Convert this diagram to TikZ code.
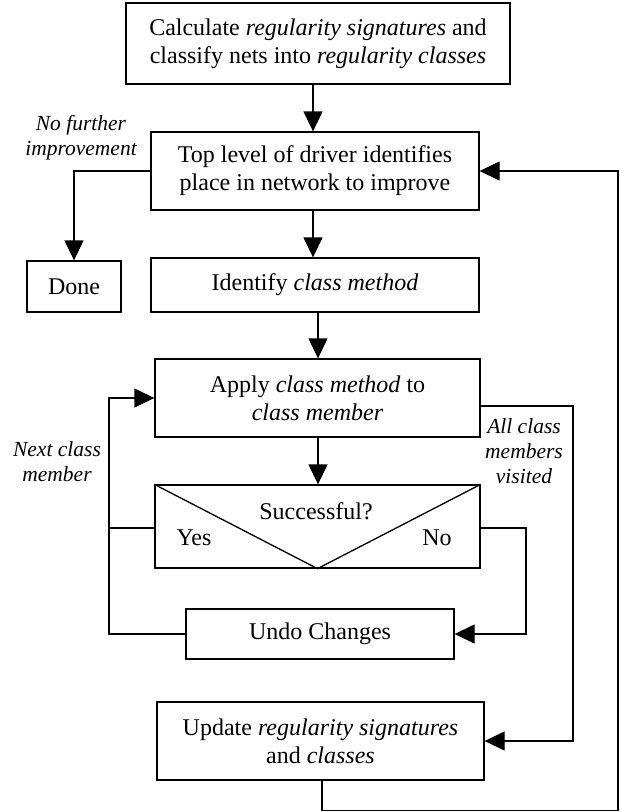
\documentclass[tikz,border=0pt]{standalone}
\usepackage{fontspec}
\setmainfont{Liberation Serif}
\usetikzlibrary{arrows.meta,calc}
\begin{document}
\begin{tikzpicture}[x=1pt,y=-1pt,
  box/.style={draw, line width=1.3pt, inner sep=0pt, align=center, font=\fontsize{24}{28}\selectfont},
  arr/.style={line width=1.3pt, -{Triangle[length=20pt,width=19pt]}},
  ln/.style={line width=1.3pt},
  lbl/.style={inner sep=0pt, align=center, font=\fontsize{21.5}{25}\selectfont\itshape},
  txt/.style={inner sep=0pt, font=\fontsize{24}{28}\selectfont}]
\useasboundingbox (0,0) rectangle (620,812);
\node[box, minimum width=384pt, minimum height=81pt] (b1) at (318,43.5) {Calculate \textit{regularity signatures} and\\classify nets into \textit{regularity classes}};
\node[box, minimum width=328pt, minimum height=78pt] (b2) at (315,171) {Top level of driver identifies\\place in network to improve};
\node[box, minimum width=94pt, minimum height=51pt] (done) at (74,286.5) {Done};
\node[box, minimum width=328pt, minimum height=54pt] (ident) at (315,285) {Identify \textit{class method}};
\node[box, minimum width=325pt, minimum height=78pt] (apply) at (317.5,398) {Apply \textit{class method} to\\\textit{class member}};
\node[box, minimum width=325pt, minimum height=83pt] (succ) at (317.5,526.5) {};
\node[box, minimum width=268pt, minimum height=50pt] (undo) at (320,634) {Undo Changes};
\node[box, minimum width=327pt, minimum height=78pt] (upd) at (320.5,741) {Update \textit{regularity signatures}\\and \textit{classes}};
\draw[ln] (succ.north west) -- (succ.south) -- (succ.north east);
\node[txt] (q) at (316,511) {Successful?};
\node[txt] (yes) at (194,538) {Yes};
\node[txt] (no) at (437,538) {No};
\node[lbl] (lnf) at (81,138) {No further\\improvement};
\node[lbl] (lnc) at (57,462) {Next class\\member};
\node[lbl] (lav) at (524,451) {All class\\members\\visited};
\coordinate (nc) at (109,0);
\coordinate (nr) at (526,0);
\coordinate (av) at (573,0);
\coordinate (c1) at (618,810.5);
\coordinate (sw) at ([yshift=-1.5pt]succ.west);
\coordinate (se) at ([yshift=-1.5pt]succ.east);
\coordinate (ae) at ([yshift=-8pt]apply.east);
\draw[arr] ([xshift=-5pt]b1.south) -- ([xshift=-2pt]b2.north);
\draw[arr] ([xshift=-2pt]b2.south) -- ([xshift=-2pt]ident.north);
\draw[arr] ([xshift=3pt]ident.south) -- ([xshift=0.5pt]apply.north);
\draw[arr] ([xshift=0.5pt]apply.south) -- ([xshift=0.5pt]succ.north);
\draw[arr] (b2.west) -| (done.north);
\draw[arr] ([xshift=1.5pt]upd.south) |- (c1) |- (b2.east);
\draw[arr] (undo.west) -| (nc |- apply.west) -- (apply.west);
\draw[ln] (sw) -- (nc |- sw);
\draw[arr] (se) -| (nr |- undo.east) -- (undo.east);
\draw[arr] (ae) -| (av |- upd.east) -- (upd.east);
\end{tikzpicture}
\end{document}
